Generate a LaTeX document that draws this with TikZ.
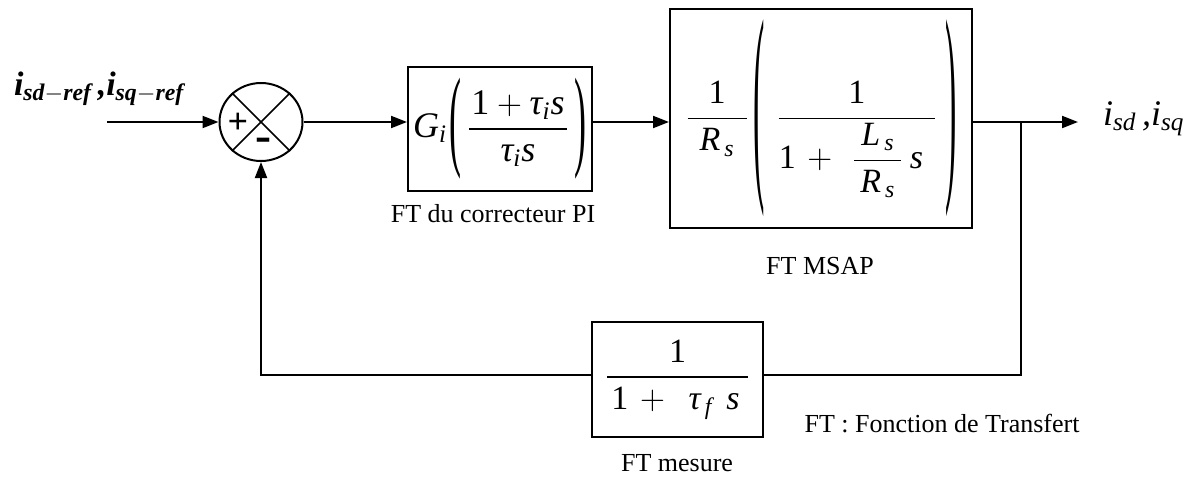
\documentclass[tikz,border=0pt]{standalone}
\usepackage{amsmath}
\usepackage{graphicx}
\usepackage{fontspec}
\setmainfont{Liberation Serif}
\usetikzlibrary{arrows.meta,shapes.geometric}
\newcommand{\tx}[1]{\text{\itshape #1}}
\newcommand{\tb}[1]{\text{\bfseries\itshape #1}}
\newcommand{\ro}[1]{\text{\upshape #1}}
\newcommand{\tallparen}[2]{\vcenter{\hbox{\scalebox{1}[#2]{#1}}}}
\begin{document}
\begin{tikzpicture}[x=0.5pt,y=-0.5pt, line width=1pt,
  blk/.style={draw, line width=1pt, inner sep=0pt, align=center},
  lbl/.style={font=\fontsize{13}{15}\selectfont, inner sep=0pt},
  arr/.style={-{Triangle[length=8pt,width=6pt]}}]
\useasboundingbox (0,0) rectangle (1194,482);

% summing junction
\node[ellipse, draw, minimum width=41.5pt, minimum height=39pt, inner sep=0pt] (sum) at (261,122) {};
\draw[line width=0.75pt] (sum.45) -- (sum.225);
\draw[line width=0.75pt] (sum.135) -- (sum.-45);
\node[inner sep=0pt, font=\fontsize{18}{20}\selectfont\bfseries] (plus) at (238,123) {+};
\node[inner sep=0pt, font=\fontsize{24}{26}\selectfont\bfseries] (minus) at (263,145) {-};

% blocks
\node[blk, minimum width=92pt, minimum height=62pt] (pi) at (500,129)
  {\fontsize{18}{21}\selectfont $\tx{G}_{\tx{i}}\hspace{1pt}\tallparen{(}{3.1}\hspace{3pt}\dfrac{\hspace{1pt}\ro{1}+\tx{τ}_{\tx{i}}\tx{s}\hspace{1pt}}{\tx{τ}_{\tx{i}}\tx{s}}\hspace{3pt}\tallparen{)}{3.1}$};
\node[blk, minimum width=151pt, minimum height=109.5pt] (msap) at (821,118.5)
  {\fontsize{17}{20}\selectfont $\dfrac{\ro{1}}{\hspace{6pt}\tx{R}_{\,\tx{s}}\hspace{6pt}}\hspace{2pt}\tallparen{(}{6.4}\hspace{6pt}\dfrac{\ro{1}}{\ro{1}\hspace{2pt}+\hspace{6pt}\dfrac{\hspace{3pt}\tx{L}_{\,\tx{s}}\hspace{3pt}}{\hspace{3pt}\tx{R}_{\,\tx{s}}\hspace{3pt}}\hspace{3pt}\tx{s}\hspace{6pt}}\hspace{4pt}\tallparen{)}{6.4}$};
\node[blk, minimum width=85.5pt, minimum height=57.5pt] (meas) at (677.5,379.5)
  {\fontsize{17}{20}\selectfont $\genfrac{}{}{1pt}{0}{\ro{1}}{\hspace{2pt}\ro{1}\hspace{2pt}+\hspace{8pt}\tx{τ}_{\,\tx{f}}\hspace{7pt}\tx{s}\hspace{4pt}}$};

% labels
\node[anchor=base west, inner sep=0pt] (inlbl) at (13,95)
  {\fontsize{17}{20}\selectfont $\tb{i}_{\tb{sd}-\tb{ref}}\,\tb{,}\tb{i}_{\tb{sq}-\tb{ref}}$};
\node[anchor=base west, inner sep=0pt] (outlbl) at (1102,125)
  {\fontsize{18}{21}\selectfont $\tx{i}_{\tx{sd}}\,\tx{,}\tx{i}_{\tx{sq}}$};
\node[lbl] (pilbl) at (493,214) {FT du correcteur PI};
\node[lbl] (msaplbl) at (820,266) {FT MSAP};
\node[lbl] (measlbl) at (677,463) {FT mesure};
\node[lbl] (legend) at (942,424) {FT : Fonction de Transfert};

% connectors
\coordinate (in) at (107,122);
\coordinate (out) at (1078,122);
\coordinate (jn) at (1021,122);
\coordinate (fbR) at (1021,375);
\coordinate (fbL) at (261,375);
\draw[arr] (in) -- (sum);
\draw[arr] (sum) -- (sum -| pi.west);
\draw[arr] (sum -| pi.east) -- (sum -| msap.west);
\draw[arr] (sum -| msap.east) -- (out);
\draw (jn) -- (fbR) -- (fbR -| meas.east);
\draw[arr] (fbR -| meas.west) -- (fbL) -- (sum);
\end{tikzpicture}
\end{document}
